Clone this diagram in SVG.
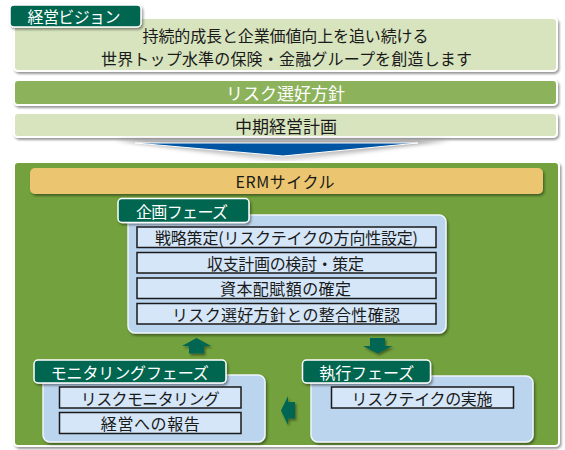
<svg xmlns="http://www.w3.org/2000/svg" width="565" height="450" viewBox="0 0 565 450">
<defs>
<filter id="sh" x="-10%" y="-20%" width="120%" height="150%"><feDropShadow dx="1.5" dy="2" stdDeviation="1.2" flood-color="#000" flood-opacity="0.4"/></filter>
<filter id="blur" x="-10%" y="-50%" width="120%" height="200%"><feGaussianBlur stdDeviation="2"/></filter>
<linearGradient id="silver" x1="0" y1="0" x2="0" y2="1"><stop offset="0" stop-color="#7a7a7a"/><stop offset="1" stop-color="#e6e6e6"/></linearGradient>
</defs>
<style>
text{font-family:"Noto Sans CJK JP","Noto Sans",sans-serif;font-size:16px;fill:#1a1a1a;text-anchor:middle;dominant-baseline:central}
.w{fill:#fff}
.t17{font-size:17px}
.tab{fill:#00664f;stroke:#fff;stroke-width:1.5}
.row{fill:#d4e6f8;stroke:#1a1a1a;stroke-width:1.5}
.panel{fill:#bcd5ee;stroke:#eef5fc;stroke-width:1.5}
.arr{fill:#006652}
.lg{fill:#d7e4be;stroke:#fff;stroke-width:2}
</style>
<rect width="565" height="450" fill="#fff"/>

<g id="vision">
<rect class="lg" x="14" y="18" width="543" height="53" rx="4" filter="url(#sh)"/>
<text x="285.5" y="34.5" textLength="286">持続的成長と企業価値向上を追い続ける</text>
<text x="286.5" y="57.5" textLength="371">世界トップ水準の保険・金融グループを創造します</text>
<rect class="tab" x="10" y="5" width="131" height="22" rx="4" filter="url(#sh)"/>
<text class="w" x="74" y="16" textLength="93">経営ビジョン</text>
</g>

<g id="risk-appetite">
<rect x="14" y="80" width="543" height="25" rx="4" fill="#8db25b" stroke="#fff" stroke-width="2" filter="url(#sh)"/>
<text class="w t17" x="285.5" y="92.5">リスク選好方針</text>
</g>

<g id="mid-plan">
<rect class="lg" x="14" y="113" width="543" height="24" rx="4" filter="url(#sh)"/>
<text class="t17" x="286" y="125">中期経営計画</text>
</g>

<g id="flow-arrow">
<polygon points="115,140 450,140 283,162" fill="url(#silver)" filter="url(#blur)" opacity="0.85"/>
<polygon points="135,143 418,143 283,156" fill="#0055a2" stroke="#fff" stroke-width="1"/>
</g>

<g id="erm">
<rect x="14" y="162" width="545" height="284" rx="4" fill="#72a13e" stroke="#fff" stroke-width="2" filter="url(#sh)"/>
<rect x="30" y="168" width="513" height="26" rx="5" fill="#ebc56f" filter="url(#sh)"/>
<text x="285" y="181" textLength="99">ERMサイクル</text>
</g>

<g id="plan-phase">
<rect class="panel" x="128" y="215" width="318" height="118" rx="7" filter="url(#sh)"/>
<rect class="tab" x="118" y="198.5" width="131" height="24" rx="4" filter="url(#sh)"/>
<text class="w" x="182" y="210.5" textLength="92">企画フェーズ</text>
<rect class="row" x="137" y="227" width="299" height="20.5"/>
<text x="286.5" y="237.2" textLength="263">戦略策定(リスクテイクの方向性設定)</text>
<rect class="row" x="137" y="252.5" width="299" height="20.5"/>
<text x="285.5" y="262.7" textLength="157">収支計画の検討・策定</text>
<rect class="row" x="137" y="278" width="299" height="20.5"/>
<text x="285.5" y="288.2" textLength="131">資本配賦額の確定</text>
<rect class="row" x="137" y="303.5" width="299" height="20.5"/>
<text x="286" y="313.7" textLength="228">リスク選好方針との整合性確認</text>
</g>

<g id="monitoring-phase">
<rect class="panel" x="43" y="375" width="222" height="67" rx="7" filter="url(#sh)"/>
<rect class="tab" x="34" y="360" width="192" height="23" rx="4" filter="url(#sh)"/>
<text class="w" x="129.7" y="371.5" textLength="158">モニタリングフェーズ</text>
<rect class="row" x="59.5" y="387" width="181.5" height="21"/>
<text x="150.3" y="397.5" textLength="139">リスクモニタリング</text>
<rect class="row" x="59.5" y="412.5" width="181.5" height="21"/>
<text x="150.3" y="423" textLength="99">経営への報告</text>
</g>

<g id="execution-phase">
<rect class="panel" x="311" y="376" width="222" height="66" rx="7" filter="url(#sh)"/>
<rect class="tab" x="302.5" y="360" width="128" height="23" rx="4" filter="url(#sh)"/>
<text class="w" x="366.7" y="371.5" textLength="95">執行フェーズ</text>
<rect class="row" x="331.5" y="387" width="182" height="21"/>
<text x="422" y="397.5" textLength="141">リスクテイクの実施</text>
</g>

<g id="connectors" filter="url(#sh)">
<polygon class="arr" points="196.5,338 211,346 204,346 204,353.5 189,353.5 189,346 182,346"/>
<polygon class="arr" points="370,338 385,338 385,346 392.5,346 377.7,353.5 363,346 370,346"/>
<polygon class="arr" points="281,410.5 288,396 288,402 295,402 295,418.5 288,418.5 288,425"/>
</g>
</svg>
